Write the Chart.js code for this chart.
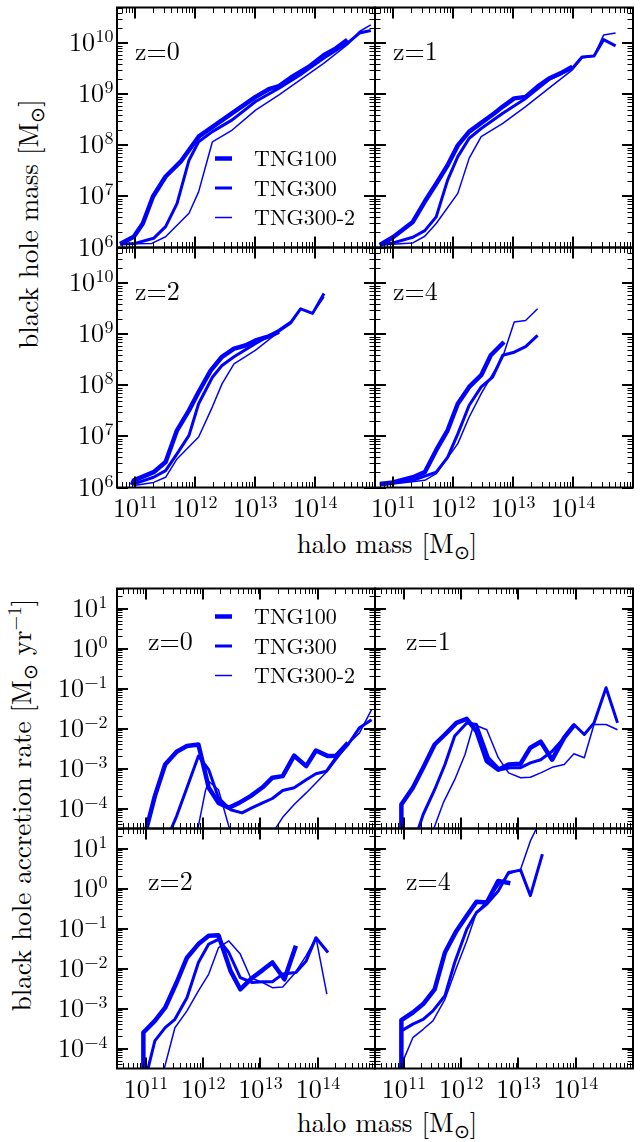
<!DOCTYPE html>
<html>
<head>
<meta charset="utf-8">
<script src="https://cdn.jsdelivr.net/npm/chart.js@4.4.1/dist/chart.umd.min.js"></script>
<style>
  body { margin: 0; background: #fff; width: 644px; height: 1142px; position: relative; overflow: hidden; font-family: "Latin Modern Roman", "Liberation Serif", serif; }
  canvas { position: absolute; left: 0; top: 0; }
  .title { position: absolute; font-size: 27px; line-height: 1; white-space: nowrap; color: #000; transform: translate(-50%, -50%); }
  .rot { transform: translate(-50%, -50%) rotate(-90deg); }
  .sub { font-size: 0.72em; vertical-align: -0.3em; }
  sup { font-size: 0.7em; vertical-align: 0.5em; line-height: 0; }
</style>
</head>
<body>
<div class="title rot" style="left:30px; top:224px;">black hole mass [M<span class="sub">⊙</span>]</div>
<div class="title" style="left:387px; top:545px;">halo mass [M<span class="sub">⊙</span>]</div>
<div class="title rot" style="left:23px; top:805px;">black hole accretion rate [M<span class="sub">⊙</span> yr<sup>−1</sup>]</div>
<div class="title" style="left:387px; top:1124px;">halo mass [M<span class="sub">⊙</span>]</div>

<script>
// each series: [log10 halo mass, log10 value]
const simNames = ['TNG100', 'TNG300', 'TNG300-2'];
const massTickExp = [11, 12, 13, 14];
const bhMassTickExp = [6, 7, 8, 9, 10];
const rateTickExp = [-4, -3, -2, -1, 0, 1];

// black hole mass
const mbh_z0_tng100 = [[10.75,6.07],[10.98,6.21],[11.13,6.47],[11.30,7.0],[11.51,7.39],[11.76,7.68],[12.06,8.17],[12.34,8.40],[12.62,8.63],[13.01,8.95],[13.23,9.10],[13.40,9.16],[13.60,9.33],[13.90,9.54],[14.15,9.77],[14.35,9.90],[14.54,10.07]];
const mbh_z0_tng300 = [[10.75,6.07],[11.0,6.08],[11.31,6.18],[11.51,6.41],[11.70,6.86],[11.90,7.71],[12.06,8.07],[12.29,8.27],[12.62,8.50],[13.01,8.86],[13.40,9.12],[13.79,9.41],[14.15,9.71],[14.54,10.0],[14.74,10.2],[14.93,10.25]];
const mbh_z0_tng300_2 = [[10.75,6.07],[11.28,6.08],[11.51,6.21],[11.90,6.67],[12.06,7.09],[12.29,8.07],[12.62,8.30],[13.01,8.69],[13.40,8.99],[13.79,9.31],[14.15,9.61],[14.54,9.97],[14.74,10.23],[14.93,10.36]];

const mbh_z1_tng100 = [[10.78,6.05],[11.0,6.20],[11.33,6.50],[11.53,6.90],[11.72,7.25],[11.91,7.61],[12.08,8.0],[12.27,8.27],[12.47,8.44],[12.69,8.63],[12.83,8.76],[13.02,8.92],[13.21,8.95],[13.41,9.15],[13.60,9.31],[13.79,9.41],[13.99,9.54]];
const mbh_z1_tng300 = [[10.78,6.06],[11.0,6.09],[11.33,6.20],[11.53,6.33],[11.72,6.60],[11.91,7.32],[12.08,7.78],[12.27,8.14],[12.47,8.33],[12.83,8.63],[13.21,8.92],[13.60,9.29],[13.99,9.51],[14.15,9.73],[14.35,9.75],[14.51,10.07],[14.71,9.95]];
const mbh_z1_tng300_2 = [[10.78,6.05],[11.33,6.09],[11.53,6.22],[11.72,6.47],[12.08,7.06],[12.27,7.75],[12.47,8.17],[12.83,8.43],[13.21,8.76],[13.60,9.12],[13.99,9.48],[14.15,9.71],[14.35,9.75],[14.51,10.16],[14.71,10.20]];

const mbh_z2_tng100 = [[10.95,6.05],[10.98,6.14],[11.31,6.30],[11.51,6.50],[11.70,7.12],[11.90,7.51],[12.06,7.87],[12.26,8.29],[12.45,8.56],[12.65,8.72],[12.84,8.78],[13.01,8.88],[13.23,8.96],[13.40,9.05]];
const mbh_z2_tng300 = [[10.98,6.07],[11.31,6.20],[11.51,6.33],[11.70,6.66],[11.90,7.02],[12.06,7.64],[12.29,8.16],[12.45,8.39],[12.65,8.56],[13.01,8.82],[13.40,9.08],[13.60,9.24],[13.76,9.50],[13.96,9.41],[14.15,9.80]];
const mbh_z2_tng300_2 = [[10.98,6.04],[11.31,6.10],[11.51,6.20],[11.70,6.56],[12.06,6.99],[12.29,7.58],[12.45,8.03],[12.65,8.42],[13.01,8.69],[13.40,9.05],[13.60,9.21],[13.76,9.50],[13.96,9.41],[14.15,9.73]];

const mbh_z4_tng100 = [[10.78,6.07],[11.0,6.10],[11.33,6.20],[11.53,6.30],[11.72,6.73],[11.91,7.12],[12.08,7.64],[12.27,7.97],[12.47,8.20],[12.63,8.59],[12.85,8.85]];
const mbh_z4_tng300 = [[10.78,6.06],[11.33,6.14],[11.72,6.30],[11.91,6.59],[12.08,7.05],[12.27,7.61],[12.47,7.97],[12.66,8.16],[12.83,8.59],[13.02,8.65],[13.21,8.76],[13.41,8.98]];
const mbh_z4_tng300_2 = [[10.78,6.04],[11.53,6.14],[11.72,6.27],[12.08,6.86],[12.27,7.38],[12.47,7.84],[12.83,8.56],[13.02,9.24],[13.21,9.27],[13.41,9.50]];

// black hole accretion rate
const mdot_z0_tng100 = [[10.96,-4.8],[11.16,-3.69],[11.34,-2.9],[11.54,-2.58],[11.72,-2.44],[11.92,-2.40],[12.10,-3.48],[12.27,-3.86],[12.45,-3.98],[12.63,-3.86],[12.83,-3.69],[13.04,-3.47],[13.21,-3.23],[13.39,-3.19],[13.59,-2.68],[13.80,-2.94],[13.97,-2.55],[14.18,-2.69],[14.32,-2.68],[14.53,-2.36]];
const mdot_z0_tng300 = [[11.36,-4.8],[11.54,-4.19],[11.72,-3.48],[11.92,-2.69],[12.10,-3.03],[12.27,-3.73],[12.48,-4.03],[12.68,-4.11],[12.86,-3.98],[13.04,-3.86],[13.21,-3.75],[13.39,-3.55],[13.59,-3.48],[13.80,-3.28],[13.97,-3.13],[14.15,-3.07],[14.32,-2.73],[14.53,-2.40],[14.73,-1.98],[14.94,-1.78]];
const mdot_z0_tng300_2 = [[11.87,-4.8],[12.04,-3.57],[12.10,-3.32],[12.27,-3.53],[12.52,-4.8],[12.8,null],[13.13,-4.8],[13.39,-4.22],[13.59,-3.90],[13.80,-3.61],[13.97,-3.36],[14.18,-3.05],[14.35,-2.73],[14.55,-2.36],[14.73,-2.11],[14.94,-1.53]];

const mdot_z1_tng100 = [[10.96,-4.8],[10.96,-3.9],[11.16,-3.48],[11.34,-2.98],[11.54,-2.40],[11.72,-2.15],[11.92,-1.86],[12.10,-1.76],[12.27,-2.07],[12.45,-2.82],[12.65,-3.03],[12.83,-2.90],[13.04,-2.88],[13.21,-2.48],[13.39,-2.33],[13.59,-2.78],[13.80,-2.23],[13.97,-1.92]];
const mdot_z1_tng300 = [[11.19,-4.8],[11.34,-4.15],[11.54,-3.53],[11.72,-2.90],[11.89,-2.19],[12.10,-1.86],[12.27,-1.90],[12.48,-2.73],[12.68,-3.03],[12.86,-2.98],[13.04,-2.98],[13.21,-2.86],[13.39,-2.78],[13.59,-2.57],[13.77,-2.28],[13.97,-1.90],[14.15,-2.15],[14.32,-1.86],[14.53,-0.98],[14.73,-1.86]];
const mdot_z1_tng300_2 = [[11.45,-4.8],[11.69,-3.86],[11.89,-3.28],[12.07,-2.65],[12.22,-1.90],[12.45,-2.03],[12.65,-2.73],[12.83,-3.11],[13.04,-3.23],[13.21,-3.22],[13.39,-3.11],[13.59,-2.97],[13.80,-2.90],[13.97,-2.63],[14.15,-2.73],[14.32,-1.90],[14.53,-1.90],[14.73,-2.03]];

const mdot_z2_tng100 = [[10.96,-4.8],[10.96,-3.6],[11.16,-3.31],[11.34,-2.98],[11.54,-2.35],[11.72,-1.73],[11.92,-1.39],[12.10,-1.18],[12.27,-1.17],[12.48,-2.06],[12.65,-2.52],[12.86,-2.23],[13.04,-2.04],[13.21,-1.85],[13.42,-2.27],[13.62,-1.43]];
const mdot_z2_tng300 = [[10.99,-4.8],[11.16,-3.81],[11.34,-3.48],[11.51,-3.27],[11.72,-2.73],[11.92,-1.85],[12.10,-1.39],[12.27,-1.27],[12.45,-1.60],[12.65,-2.23],[12.86,-2.35],[13.04,-2.33],[13.21,-2.33],[13.39,-2.14],[13.62,-2.10],[13.80,-1.81],[13.97,-1.23],[14.18,-1.60]];
const mdot_z2_tng300_2 = [[11.27,-4.8],[11.51,-3.48],[11.72,-3.06],[11.92,-2.56],[12.10,-2.14],[12.27,-1.48],[12.45,-1.31],[12.65,-1.64],[12.83,-2.23],[13.04,-2.35],[13.21,-2.48],[13.39,-2.46],[13.59,-2.14],[13.80,-1.68],[13.97,-1.23],[14.16,-2.64]];

const mdot_z4_tng100 = [[10.96,-4.8],[10.96,-3.29],[11.16,-3.10],[11.34,-2.89],[11.54,-2.52],[11.72,-1.60],[11.92,-1.06],[12.10,-0.68],[12.27,-0.33],[12.45,-0.35],[12.65,0.19],[12.86,0.13]];
const mdot_z4_tng300 = [[10.96,-4.8],[10.96,-3.56],[11.16,-3.39],[11.34,-3.27],[11.51,-3.06],[11.72,-2.68],[11.89,-1.85],[12.10,-1.02],[12.27,-0.60],[12.45,-0.39],[12.65,-0.06],[12.83,0.40],[13.04,0.46],[13.21,-0.18],[13.42,0.86]];
const mdot_z4_tng300_2 = [[10.97,-4.8],[10.99,-4.31],[11.16,-3.73],[11.34,-3.52],[11.51,-3.31],[11.72,-2.77],[11.92,-1.98],[12.10,-1.31],[12.27,-0.60],[12.45,-0.31],[12.65,0.07],[12.83,0.36],[13.04,0.48],[13.21,1.19],[13.44,1.86]];

const BLUE = '#0000ff';
const lineWidths = [4.5, 3, 1.5];
const FONT = '"Latin Modern Roman", "Liberation Serif", serif';

function toPoints(arr) {
  return arr.map(p => ({ x: Math.pow(10, p[0]), y: p[1] === null ? null : Math.pow(10, p[1]) }));
}

// "10^n" with a raised, smaller exponent
function drawPow(ctx, exp, x, y, align) {
  const base = '10';
  const ex = exp < 0 ? '\u2212' + (-exp) : String(exp);
  ctx.font = '26px ' + FONT;
  const wb = ctx.measureText(base).width;
  ctx.font = '18px ' + FONT;
  const we = ctx.measureText(ex).width;
  const x0 = align === 'center' ? x - (wb + we) / 2 : x - (wb + we);
  ctx.textAlign = 'left';
  ctx.textBaseline = 'alphabetic';
  ctx.font = '26px ' + FONT;
  ctx.fillText(base, x0, y);
  ctx.font = '18px ' + FONT;
  ctx.fillText(ex, x0 + wb + 0.5, y - 9);
}

function logTicks(lo, hi) {
  const out = [];
  for (let e = Math.floor(lo); e <= Math.ceil(hi); e++) {
    for (let k = 1; k <= 9; k++) {
      const lv = e + Math.log10(k);
      if (lv >= lo - 1e-6 && lv <= hi + 1e-6) out.push({ v: Math.pow(10, lv), major: k === 1 });
    }
  }
  return out;
}

const panelDeco = {
  id: 'panelDeco',
  afterDatasetsDraw(chart, args, o) {
    const ctx = chart.ctx, a = chart.chartArea;
    const xs = chart.scales.x, ys = chart.scales.y;
    ctx.save();
    ctx.strokeStyle = '#000';
    ctx.fillStyle = '#000';

    // x ticks, bottom and top, pointing inward
    logTicks(o.xr[0], o.xr[1]).forEach(t => {
      const px = Math.round(xs.getPixelForValue(t.v)) + (t.major ? 0 : 0.5);
      const len = t.major ? 11 : 5.5;
      ctx.lineWidth = t.major ? 2 : 1;
      ctx.beginPath();
      ctx.moveTo(px, a.bottom); ctx.lineTo(px, a.bottom - len);
      ctx.moveTo(px, a.top); ctx.lineTo(px, a.top + len);
      ctx.stroke();
    });
    // y ticks, left and right
    logTicks(o.yr[0], o.yr[1]).forEach(t => {
      const py = Math.round(ys.getPixelForValue(t.v)) + (t.major ? 0 : 0.5);
      const len = t.major ? 11 : 5.5;
      ctx.lineWidth = t.major ? 2 : 1;
      ctx.beginPath();
      ctx.moveTo(a.left, py); ctx.lineTo(a.left + len, py);
      ctx.moveTo(a.right, py); ctx.lineTo(a.right - len, py);
      ctx.stroke();
    });
    ctx.lineWidth = 2;
    ctx.strokeRect(a.left, a.top, a.right - a.left, a.bottom - a.top);

    if (o.xLabels) {
      o.xLabels.forEach(e => drawPow(ctx, e, xs.getPixelForValue(Math.pow(10, e)), a.bottom + 29.5, 'center'));
    }
    if (o.yLabels) {
      o.yLabels.forEach(e => drawPow(ctx, e, a.left - o.yPad, ys.getPixelForValue(Math.pow(10, e)) + 8, 'right'));
    }

    // redshift tag
    ctx.font = '26px ' + FONT;
    ctx.textAlign = 'left';
    ctx.textBaseline = 'alphabetic';
    ctx.fillText(o.z, a.left + o.zPos[0], a.top + o.zPos[1]);

    if (o.legend) {
      chart.data.datasets.forEach((ds, i) => {
        const yRow = a.top + o.legend.y + i * 29.5;
        ctx.strokeStyle = ds.borderColor;
        ctx.lineWidth = ds.borderWidth;
        ctx.beginPath();
        ctx.moveTo(a.left + 98, yRow); ctx.lineTo(a.left + 115, yRow);
        ctx.stroke();
        ctx.fillStyle = '#000';
        ctx.font = '22px ' + FONT;
        ctx.fillText(ds.label, a.left + 137, yRow + 7.5);
      });
    }
    ctx.restore();
  }
};

const panels = [
  { rect: [117, 7.5, 375, 247.5], xr: [10.7, 15], yr: [6, 10.7], series: [mbh_z0_tng100, mbh_z0_tng300, mbh_z0_tng300_2], z: 'z=0', xLabels: null, yLabels: bhMassTickExp, yPad: 4, zPos: [18, 52.5], legend: { y: 151 } },
  { rect: [375, 7.5, 633, 247.5], xr: [10.7, 15], yr: [6, 10.7], series: [mbh_z1_tng100, mbh_z1_tng300, mbh_z1_tng300_2], z: 'z=1', xLabels: null, yLabels: null, zPos: [18, 52.5] },
  { rect: [117, 247.5, 375, 487.5], xr: [10.7, 15], yr: [6, 10.7], series: [mbh_z2_tng100, mbh_z2_tng300, mbh_z2_tng300_2], z: 'z=2', xLabels: massTickExp, yLabels: bhMassTickExp, yPad: 4, zPos: [18, 52.5] },
  { rect: [375, 247.5, 633, 487.5], xr: [10.7, 15], yr: [6, 10.7], series: [mbh_z4_tng100, mbh_z4_tng300, mbh_z4_tng300_2], z: 'z=4', xLabels: massTickExp, yLabels: null, zPos: [18, 52.5] },
  { rect: [117, 588.5, 375, 828.5], xr: [10.5, 15], yr: [-4.5, 1.5], series: [mdot_z0_tng100, mdot_z0_tng300, mdot_z0_tng300_2], z: 'z=0', xLabels: null, yLabels: rateTickExp, yPad: 10, zPos: [31, 61], legend: { y: 28 } },
  { rect: [375, 588.5, 633, 828.5], xr: [10.5, 15], yr: [-4.5, 1.5], series: [mdot_z1_tng100, mdot_z1_tng300, mdot_z1_tng300_2], z: 'z=1', xLabels: null, yLabels: null, zPos: [31, 61] },
  { rect: [117, 828.5, 375, 1068.5], xr: [10.5, 15], yr: [-4.5, 1.5], series: [mdot_z2_tng100, mdot_z2_tng300, mdot_z2_tng300_2], z: 'z=2', xLabels: massTickExp, yLabels: rateTickExp, yPad: 10, zPos: [31, 61] },
  { rect: [375, 828.5, 633, 1068.5], xr: [10.5, 15], yr: [-4.5, 1.5], series: [mdot_z4_tng100, mdot_z4_tng300, mdot_z4_tng300_2], z: 'z=4', xLabels: massTickExp, yLabels: null, zPos: [31, 61] }
];

const W = 644, H = 1142;
panels.forEach(p => {
  const cv = document.createElement('canvas');
  cv.width = W; cv.height = H;
  cv.style.width = W + 'px'; cv.style.height = H + 'px';
  document.body.appendChild(cv);
  const [l, t, r, b] = p.rect;
  new Chart(cv.getContext('2d'), {
    type: 'line',
    data: {
      datasets: p.series.map((s, i) => ({
        label: simNames[i],
        data: toPoints(s),
        borderColor: BLUE,
        backgroundColor: BLUE,
        borderWidth: lineWidths[i],
        borderJoinStyle: 'round',
        pointRadius: 0,
        tension: 0,
        spanGaps: false,
        fill: false
      }))
    },
    options: {
      responsive: false,
      animation: false,
      devicePixelRatio: 1,
      layout: { padding: { left: l, top: t, right: W - r, bottom: H - b } },
      scales: {
        x: { type: 'logarithmic', display: false, min: Math.pow(10, p.xr[0]), max: Math.pow(10, p.xr[1]), bounds: 'data' },
        y: { type: 'logarithmic', display: false, min: Math.pow(10, p.yr[0]), max: Math.pow(10, p.yr[1]), bounds: 'data' }
      },
      plugins: {
        legend: { display: false },
        tooltip: { enabled: false },
        panelDeco: p
      }
    },
    plugins: [panelDeco]
  });
});
</script>
</body>
</html>
